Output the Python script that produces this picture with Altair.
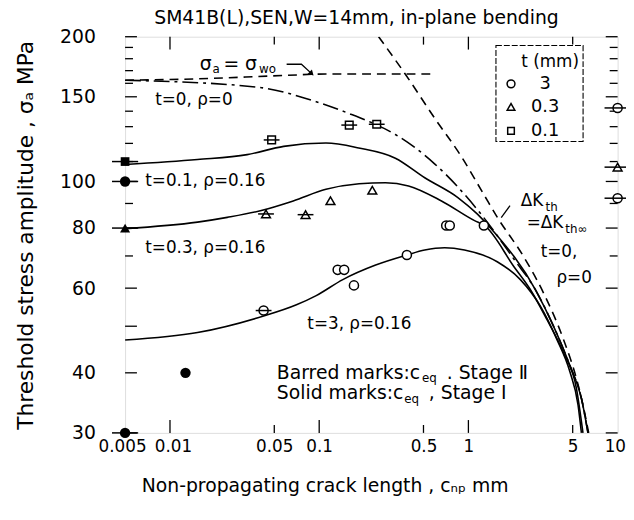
import altair as alt
import pandas as pd

FONT = "DejaVu Sans"

# ---------------- axis ticks ----------------
x_tick_values = [0.005, 0.01, 0.05, 0.1, 0.5, 1, 5, 10]
y_tick_values = [30, 40, 60, 80, 100, 150, 200]
y_tick_long = [30, 40, 50, 60, 80, 100, 150, 200]
y_tick_short = [70, 90, 110, 120, 130, 140, 160, 170, 180, 190]
x_tick_long = [0.01, 0.1, 1]
x_tick_short = [0.05, 0.5, 5]

# ---------------- curves (c_np [mm], sigma_a [MPa]) ----------------
t0_c = [0.005, 0.0383, 0.0955, 0.158, 0.24, 0.324, 0.596, 1.18, 2.05, 2.81, 3.71, 4.79, 5.72, 6.33]
t0_v = [162.4, 157.1, 146.5, 138.5, 131.3, 125.2, 108.7, 86.5, 68.5, 59.6, 50.1, 41.4, 35.4, 30.0]

t01_c = [0.005, 0.0153, 0.0329, 0.0578, 0.111, 0.184, 0.324, 0.51, 0.85, 1.15, 1.49, 2.81, 3.71, 4.79, 5.72, 6.33]
t01_v = [108.5, 111.1, 113.7, 118.3, 120.2, 117.4, 111.8, 101.8, 92.6, 85.5, 78.4, 59.6, 50.1, 41.4, 35.4, 30.0]

t03_c = [0.005, 0.0153, 0.0242, 0.0403, 0.067, 0.111, 0.185, 0.278, 0.397, 0.66, 1.1, 1.28, 2.02, 2.6, 3.35, 4.33, 5.3, 5.86]
t03_v = [79.8, 82.3, 84.2, 86.9, 91.1, 96.3, 98.9, 99.4, 97.9, 91.1, 82.9, 81.0, 66.5, 59.6, 51.7, 44.1, 37.1, 30.0]

t3_c = [0.005, 0.0153, 0.0424, 0.0704, 0.0955, 0.144, 0.239, 0.387, 0.51, 0.693, 0.941, 1.56, 2.23, 3.03, 3.91, 4.79, 5.43, 5.72]
t3_v = [46.8, 48.5, 52.5, 55.4, 57.9, 62.5, 67.0, 70.3, 72.0, 72.8, 72.0, 68.1, 62.5, 55.1, 47.0, 40.2, 34.3, 30.0]

dk_c = [0.25, 0.377, 0.596, 0.895, 1.28, 1.56, 2.35, 3.19, 4.33, 5.3, 5.86, 6.4]
dk_v = [200, 167.3, 135.2, 112.8, 93.5, 84.3, 69.7, 58.6, 47.0, 38.9, 34.3, 30.0]

sw0_c = [0.005, 0.0118, 0.0578, 0.111, 0.578]
sw0_v = [162.4, 163.1, 166.1, 167.3, 167.3]

arrow_c = [0.0605, 0.076, 0.089]
arrow_v = [175.3, 175.3, 167.6]
leader_c = [1.66, 1.9]
leader_v = [84.1, 89.1]

# ---------------- experimental points ----------------
pt_c = [0.0424, 0.133, 0.147, 0.171, 0.387, 0.71, 0.75, 1.27, 10, 10,
        0.044, 0.081, 0.119, 0.227, 10,
        0.048, 0.159, 0.243]
pt_v = [53.9, 65.5, 65.5, 60.8, 70.3, 81.0, 81.0, 81.0, 142.2, 92.3,
        85.6, 85.3, 91.2, 95.9, 107.1,
        122.0, 131.0, 131.5]
pt_t = ["3", "3", "3", "3", "3", "3", "3", "3", "3", "3",
        "0.3", "0.3", "0.3", "0.3", "0.3",
        "0.1", "0.1", "0.1"]
pt_barred = [True, False, False, False, False, False, False, False, True, True,
             True, True, False, False, True,
             True, True, True]

sol_c = [0.005, 0.005, 0.0127, 0.005, 0.005]
sol_v = [110.0, 100.0, 40.0, 30.0, 80.0]
sol_t = ["0.1", "3", "3", "3", "0.3"]

# ---------------- legend ----------------
leg_t = ["3", "0.3", "0.1"]
leg_v = [159.6, 142.9, 127.4]
leg_sym_c = 1.93
leg_txt_c = 3.27
leg_head = "t (mm)"
leg_head_c = 3.53
leg_head_v = 176.9
leg_box_c = [1.53, 5.87]
leg_box_v = [191.7, 121.1]

# ---------------- annotations ----------------
lab_text = ["t=0, ρ=0", "t=0.1, ρ=0.16", "t=0.3, ρ=0.16", "t=3, ρ=0.16",
            "ΔK", "=ΔK", "t=0,", "ρ=0"]
lab_c = [0.00796, 0.00683, 0.00683, 0.0833, 2.24, 2.46, 3.05, 3.89]
lab_v = [147.7, 100.0, 72.7, 50.5, 91.2, 81.8, 71.3, 63.0]

big_text = ["σ", "= σ", "Barred marks:c", ". Stage Ⅱ", "Solid marks:c", ", Stage Ⅰ"]
big_c = [0.0158, 0.0228, 0.052, 0.716, 0.052, 0.543]
big_v = [175.3, 175.3, 39.9, 39.9, 36.25, 36.25]

sub_text = ["a", "wo", "eq", "eq", "th", "th∞"]
sub_c = [0.0193, 0.0395, 0.489, 0.371, 3.29, 4.46]
sub_v = [171.1, 171.1, 39.1, 35.24, 88.6, 79.5]

# ---------------- chart ----------------
W, H = 498.5, 401

xscale = alt.Scale(type="log", domain=[0.005, 10], nice=False, zero=False)
yscale = alt.Scale(type="log", domain=[30, 200], nice=False, zero=False)
xaxis = alt.Axis(values=x_tick_values, format="~g", ticks=False, domain=False, grid=False,
                 labelFontSize=17, labelFont=FONT, labelPadding=6, labelFlush=False,
                 labelOverlap=False, labelColor="black",
                 labelAlign={"condition": {"test": "datum.value >= 10", "value": "right"},
                             "value": "center"},
                 labelOffset={"condition": [{"test": "datum.value >= 10", "value": 8},
                                            {"test": "datum.value <= 0.005", "value": -3},
                                            {"test": "datum.value == 0.01", "value": 3}],
                              "value": 0},
                 title="Non-propagating crack length , cₙₚ mm", titleFont=FONT,
                 titleFontSize=19, titleFontWeight="normal", titlePadding=22,
                 titleColor="black", titleX=202, titleAlign="center")
yaxis = alt.Axis(values=y_tick_values, format="~g", ticks=False, domain=False, grid=False,
                 labelFontSize=19, labelFont=FONT, labelPadding=30, labelFlush=False,
                 labelOverlap=False, labelColor="black",
                 title="Threshold stress amplitude , σₐ MPa", titleFont=FONT,
                 titleFontSize=22, titleFontWeight="normal", titlePadding=22,
                 titleColor="black")


def X():
    return alt.X("c:Q", scale=xscale, axis=xaxis)


def Y():
    return alt.Y("v:Q", scale=yscale, axis=yaxis)


def line(cs, vs, dash=None, width=1.6, interp="monotone"):
    df = pd.DataFrame({"c": cs, "v": vs})
    kw = dict(color="black", strokeWidth=width, interpolate=interp, clip=True)
    if dash is not None:
        kw["strokeDash"] = dash
    return alt.Chart(df).mark_line(**kw).encode(x=X(), y=Y())


layers = []


def yrules(vals, x0, x1):
    return alt.Chart(pd.DataFrame({"v": vals})).mark_rule(color="black", strokeWidth=1.3).encode(
        y=Y(), x=alt.value(x0), x2=alt.value(x1))


def xrules(vals, y0, y1):
    return alt.Chart(pd.DataFrame({"c": vals})).mark_rule(color="black", strokeWidth=1.3).encode(
        x=X(), y=alt.value(y0), y2=alt.value(y1))


layers += [yrules(y_tick_long, 0, 12), yrules(y_tick_short, 0, 8),
           yrules(y_tick_long, W, W - 12), yrules(y_tick_short, W, W - 8),
           xrules(x_tick_long, H, H - 13), xrules(x_tick_short, H, H - 8),
           xrules(x_tick_long, 0, 13), xrules(x_tick_short, 0, 8)]

layers += [
    line(sw0_c, sw0_v, dash=[9, 6]),
    line(dk_c, dk_v, dash=[9, 6]),
    line(t0_c, t0_v, dash=[16, 5, 3, 5]),
    line(t01_c, t01_v),
    line(t03_c, t03_v),
    line(t3_c, t3_v),
    line(arrow_c, arrow_v, width=1.3, interp="linear"),
    line(leader_c, leader_v, width=1.3, interp="linear"),
]

layers.append(alt.Chart(pd.DataFrame({"c": [arrow_c[-1]], "v": [arrow_v[-1]]})).mark_point(
    shape="triangle-down", angle=315, size=40, filled=True, color="black", opacity=1).encode(x=X(), y=Y()))

shape_of = {"3": ("circle", 85), "0.3": ("triangle-up", 80), "0.1": ("square", 60)}

pts = pd.DataFrame({"c": pt_c, "v": pt_v, "t": pt_t, "barred": pt_barred})
sol = pd.DataFrame({"c": sol_c, "v": sol_v, "t": sol_t})

for t, (shp, sz) in shape_of.items():
    layers.append(alt.Chart(pts).transform_filter(alt.datum.t == t).mark_point(
        shape=shp, size=sz, filled=True, fill="white", stroke="black", strokeWidth=1.5,
        opacity=1, clip=False).encode(x=X(), y=Y()))
    layers.append(alt.Chart(sol).transform_filter(alt.datum.t == t).mark_point(
        shape=shp, size=sz * 1.3, filled=True, color="black", opacity=1, clip=False).encode(x=X(), y=Y()))

bar_short = "M-1,0L1,0"
layers.append(alt.Chart(pts).transform_filter(
    alt.datum.barred & (alt.datum.c > 0.006) & (alt.datum.c < 9)).mark_point(
    shape=bar_short, size=256, filled=False, stroke="black", strokeWidth=1.5, opacity=1,
    clip=False).encode(x=X(), y=Y()))
edge = pd.concat([pts[["c", "v"]], sol[["c", "v"]]], ignore_index=True)
layers.append(alt.Chart(edge).transform_filter(
    (alt.datum.c < 0.006) | (alt.datum.c > 9)).mark_point(
    shape=bar_short, size=700, filled=False, stroke="black", strokeWidth=1.5, opacity=1,
    clip=False).encode(x=X(), y=Y()))

layers.append(alt.Chart(pd.DataFrame({"c": [leg_box_c[0]], "c2": [leg_box_c[1]],
                                      "v": [leg_box_v[0]], "v2": [leg_box_v[1]]})).mark_rect(
    fill=None, fillOpacity=0, stroke="black", strokeWidth=1.1, strokeDash=[6, 2]).encode(
    x=X(), x2="c2:Q", y=Y(), y2="v2:Q"))
leg = pd.DataFrame({"c": [leg_sym_c] * 3, "v": leg_v, "t": leg_t})
for t, (shp, sz) in shape_of.items():
    layers.append(alt.Chart(leg).transform_filter(alt.datum.t == t).mark_point(
        shape=shp, size=sz * 0.75, filled=True, fill="white", stroke="black", strokeWidth=1.5,
        opacity=1).encode(x=X(), y=Y()))
layers.append(alt.Chart(pd.DataFrame({"c": [leg_txt_c] * 3, "v": leg_v, "txt": leg_t})).mark_text(
    font=FONT, fontSize=18, align="center", baseline="middle", color="black").encode(
    x=X(), y=Y(), text="txt:N"))
layers.append(alt.Chart(pd.DataFrame({"c": [leg_head_c], "v": [leg_head_v], "txt": [leg_head]})).mark_text(
    font=FONT, fontSize=17, align="center", baseline="middle", color="black").encode(
    x=X(), y=Y(), text="txt:N"))


def texts(txt, cs, vs, fs):
    df = pd.DataFrame({"c": cs, "v": vs, "txt": txt})
    return alt.Chart(df).mark_text(font=FONT, fontSize=fs, align="left", baseline="middle",
                                   color="black").encode(x=X(), y=Y(), text="txt:N")


layers += [texts(lab_text, lab_c, lab_v, 17), texts(big_text, big_c, big_v, 19),
           texts(sub_text, sub_c, sub_v, 12)]

chart = alt.layer(*layers).properties(
    width=W, height=H,
    autosize="none",
    padding={"left": 118.5, "top": 26, "right": 8.5, "bottom": 77},
    title=alt.TitleParams("SM41B(L),SEN,W=14mm, in-plane bending", font=FONT, fontSize=19,
                          fontWeight="normal", anchor="middle", frame="group", offset=8,
                          dx=-15, dy=8, color="black"),
).configure_view(stroke="black", strokeWidth=1.5).configure(background="white")

chart.save("out.html", embed_options={"renderer": "svg", "actions": False})
